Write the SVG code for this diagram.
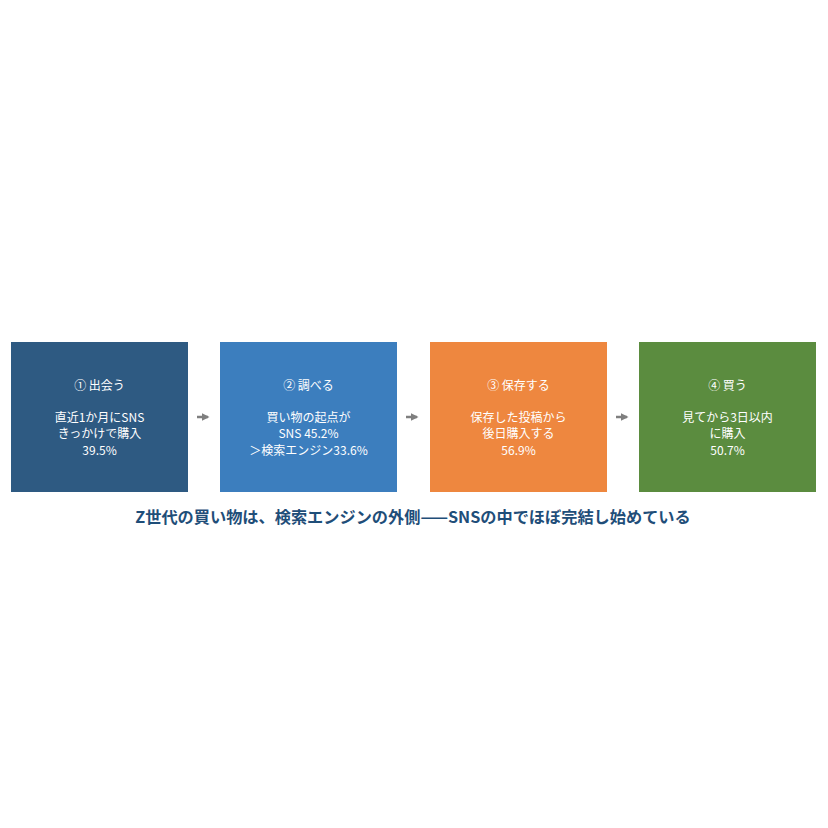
<svg xmlns="http://www.w3.org/2000/svg" width="828" height="828" viewBox="0 0 828 828">
<style>
.t{font-family:"Noto Sans CJK JP","Noto Sans",sans-serif;font-size:12px;fill:#ffffff;text-anchor:middle}
.ttl{font-family:"Noto Sans CJK JP","Noto Sans",sans-serif;font-size:16.2px;font-weight:bold;fill:#1f4e79;text-anchor:middle}
.c{stroke:#7f7f7f;stroke-width:2.5;fill:none}
</style>
<defs>
<marker id="ah" viewBox="0 0 10 10" refX="8" refY="5" markerWidth="3" markerHeight="3" orient="auto">
<path d="M0,0 L10,5 L0,10 z" fill="#7f7f7f"/>
</marker>
</defs>
<rect width="828" height="828" fill="#ffffff"/>
<g id="n1">
<rect x="11" y="342" width="177" height="150" fill="#2e5a82"/>
<text class="t" x="99.5" y="389.5">① 出会う</text>
<text class="t" y="421.5"><tspan x="99.5">直近1か月にSNS</tspan><tspan x="99.5" dy="16.6">きっかけで購入</tspan><tspan x="99.5" dy="16.6">39.5%</tspan></text>
</g>
<g id="n2">
<rect x="220" y="342" width="177" height="150" fill="#3c7ebe"/>
<text class="t" x="308.5" y="389.5">② 調べる</text>
<text class="t" y="421.5"><tspan x="308.5">買い物の起点が</tspan><tspan x="308.5" dy="16.6">SNS 45.2%</tspan><tspan x="308.5" dy="16.6">＞検索エンジン33.6%</tspan></text>
</g>
<g id="n3">
<rect x="430" y="342" width="177" height="150" fill="#ee873f"/>
<text class="t" x="518.5" y="389.5">③ 保存する</text>
<text class="t" y="421.5"><tspan x="518.5">保存した投稿から</tspan><tspan x="518.5" dy="16.6">後日購入する</tspan><tspan x="518.5" dy="16.6">56.9%</tspan></text>
</g>
<g id="n4">
<rect x="639" y="342" width="177" height="150" fill="#5b8c3f"/>
<text class="t" x="727.5" y="389.5">④ 買う</text>
<text class="t" y="421.5"><tspan x="727.5">見てから3日以内</tspan><tspan x="727.5" dy="16.6">に購入</tspan><tspan x="727.5" dy="16.6">50.7%</tspan></text>
</g>
<g id="connectors">
<line class="c" x1="197" y1="417" x2="208" y2="417" marker-end="url(#ah)"/>
<line class="c" x1="406" y1="417" x2="417" y2="417" marker-end="url(#ah)"/>
<line class="c" x1="616" y1="417" x2="627" y2="417" marker-end="url(#ah)"/>
</g>
<text class="ttl" x="413" y="523">Z世代の買い物は、検索エンジンの外側——SNSの中でほぼ完結し始めている</text>
</svg>
